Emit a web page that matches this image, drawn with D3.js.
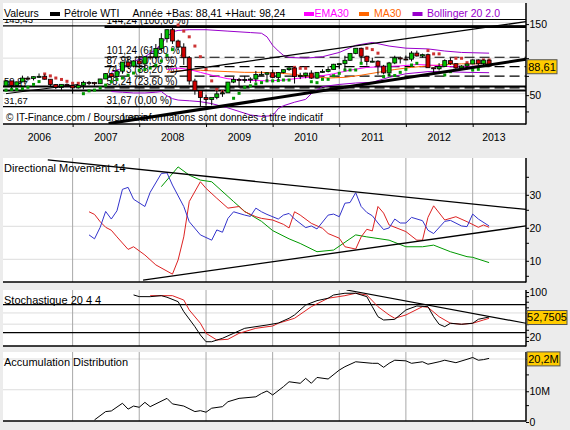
<!DOCTYPE html>
<html>
<head>
<meta charset="utf-8">
<script src="https://cdn.jsdelivr.net/npm/d3@7"></script>
<style>
  body { margin: 0; background: #ececec; }
  text { font-family: "Liberation Sans", Arial, sans-serif; }
</style>
</head>
<body>
<script>
// monthly candles, Jan 2006 .. Apr 2013 : [open, high, low, close]
const ohlc = [
  [61.0, 69.2, 60.8, 67.9], [67.9, 68.0, 57.6, 61.4], [61.4, 67.0, 59.6, 66.6], [66.6, 75.4, 66.3, 71.9],
  [71.9, 74.6, 68.2, 71.3], [71.3, 74.3, 68.7, 73.9], [73.9, 78.4, 72.2, 74.4], [74.4, 77.0, 69.8, 70.3],
  [70.3, 70.4, 59.5, 62.9], [62.9, 63.6, 56.6, 58.7], [58.7, 63.1, 55.4, 63.1], [63.1, 64.3, 60.3, 61.1],
  [61.1, 62.0, 49.9, 58.1], [58.1, 62.3, 57.2, 61.8], [61.8, 68.1, 56.3, 65.9], [65.9, 67.9, 61.9, 65.7],
  [65.7, 66.6, 61.3, 64.0], [64.0, 70.7, 64.0, 70.7], [70.7, 78.8, 70.5, 78.2], [78.2, 78.8, 69.0, 74.0],
  [74.0, 83.9, 72.0, 81.7], [81.7, 94.5, 78.0, 94.5], [94.5, 99.3, 86.0, 88.7], [88.7, 97.0, 87.0, 96.0],
  [96.0, 100.1, 86.1, 91.8], [91.8, 103.0, 86.1, 101.8], [101.8, 111.8, 97.8, 101.6], [101.6, 119.9, 98.7, 113.5],
  [113.5, 135.1, 110.0, 127.4], [127.4, 140.4, 122.0, 140.0], [140.0, 144.24, 120.0, 124.1], [124.1, 126.0, 111.3, 115.5],
  [115.5, 120.9, 90.5, 100.6], [100.6, 103.0, 62.7, 67.8], [67.8, 71.0, 48.5, 54.4], [54.4, 54.5, 31.67, 44.6],
  [44.6, 48.6, 33.2, 41.7], [41.7, 43.4, 33.6, 44.8], [44.8, 54.7, 42.1, 49.7], [49.7, 54.4, 45.5, 51.1],
  [51.1, 66.6, 50.9, 66.3], [66.3, 73.4, 64.8, 69.9], [69.9, 72.2, 58.3, 69.5], [69.5, 75.0, 65.3, 70.0],
  [70.0, 73.0, 65.0, 70.6], [70.6, 82.0, 65.9, 77.0], [77.0, 81.5, 75.5, 77.3], [77.3, 80.0, 68.6, 79.4],
  [79.4, 83.9, 72.4, 72.9], [72.9, 80.5, 69.5, 79.7], [79.7, 83.8, 78.6, 83.8], [83.8, 87.2, 82.1, 86.2],
  [86.2, 87.2, 64.2, 74.0], [74.0, 79.4, 70.5, 75.6], [75.6, 79.5, 71.6, 79.0], [79.0, 82.9, 70.7, 71.9],
  [71.9, 80.0, 70.8, 80.0], [80.0, 84.4, 79.2, 81.4], [81.4, 88.6, 80.0, 84.1], [84.1, 92.0, 84.0, 91.4],
  [91.4, 92.6, 84.9, 92.2], [92.2, 103.4, 84.1, 97.0], [97.0, 106.9, 96.1, 106.7], [106.7, 113.9, 105.5, 113.9],
  [113.9, 114.8, 94.6, 102.7], [102.7, 103.4, 89.6, 95.4], [95.4, 100.6, 94.0, 95.7], [95.7, 97.0, 76.6, 88.8],
  [88.8, 90.5, 77.1, 79.2], [79.2, 94.7, 74.9, 93.2], [93.2, 103.4, 91.5, 100.4], [100.4, 102.4, 92.5, 98.8],
  [98.8, 103.7, 97.0, 98.5], [98.5, 109.8, 95.4, 107.1], [107.1, 110.6, 102.2, 103.0], [103.0, 106.3, 100.7, 104.9],
  [104.9, 106.3, 86.3, 86.5], [86.5, 86.6, 77.3, 85.0], [85.0, 92.9, 82.6, 88.1], [88.1, 98.3, 87.5, 96.5],
  [96.5, 100.4, 90.6, 92.2], [92.2, 93.0, 84.8, 86.2], [86.2, 90.0, 84.1, 88.9], [88.9, 91.8, 84.1, 91.8],
  [91.8, 98.2, 91.6, 97.5], [97.5, 98.2, 90.1, 92.1], [92.1, 97.9, 89.5, 97.2], [97.2, 97.9, 88.41, 88.61]
];

// parabolic SAR [month index, value]
const sarUp = [[0,55],[1,56],[2,56],[3,57],[4,59],[5,63],[6,67],
  [14,50],[15,54],[16,55],[17,58],[18,62],[19,67],[20,70],[21,72],[22,76],[23,79],[24,83],[25,84],[26,86],[27,90],[28,96],[29,104],[30,112],
  [40,33],[41,43.5],[42,50.5],[43,59],[44,61],[45,63.6],[46,65.5],[47,68],[48,68],[49,68.4],[50,69.2],[51,69.2],
  [55,66.8],[56,65.5],[57,70.2],[58,70.2],[59,75.3],[60,78.6],[61,83.3],[62,83.3],[63,83.3],[64,92.7],
  [68,74],[69,76],[70,75.5],[71,80],[72,84.3],[73,90.3],[74,92.7],[79,76.3],[80,81],[84,83.3],[85,84.3]];
const sarDown = [[7,77.7],[8,75],[9,72],[10,70],[11,67.4],[12,64.6],[13,64.6],
  [31,146.6],[32,138],[33,130],[34,117],[35,102],[36,84],[37,68],[38,56],[39,52.7],
  [52,87],[53,85.7],[54,85.7],[65,114],[66,112],[67,107],[76,110.6],[77,106],[78,106],
  [81,99.8],[82,99.8],[83,93.6],[86,97.4],[87,97.4]];

const bollUpper = [[19,80],[21,86],[23,95],[25,102],[27,112],[28,120],[29,130],[30,137],[31,139],[33,140],[36,140],
  [40,138],[44,136],[46,135],[47,130],[48,118],[49,110],[50,104],[51,101],[54,100],[57,102],[60,108],[63,118],
  [66,122],[69,117],[72,114],[76,113],[79,110],[82,108],[87,107]];
const bollLower = [[19,53],[21,52],[23,51],[25,51],[27,52],[28,53],[29,47],[30,43],[31,41],[33,40],[35,38.7],[37,36],
  [40,30],[42,25],[44,20],[46,18],[48,19],[49,29],[50,33],[52,38],[54,42],[55,50],[57,60],[60,63],[63,65],[66,66],
  [69,73],[72,78],[76,81],[79,81],[83,80],[87,79.5]];
const ma30 = [[29,80],[31,82],[33,83],[35,83],[37,82],[40,81],[43,80],[46,80],[49,79],[52,77],[55,74],[58,72],[61,73],
  [64,76],[67,80],[70,84],[73,87],[76,89],[79,91],[82,92],[85,92],[87,93]];
const ema30 = [[29,84],[31,86],[33,84],[35,80],[37,76],[40,71],[43,69],[47,68],[50,69],[53,72],[56,74],[59,78],[62,83],
  [65,87],[68,88],[71,89],[74,91],[77,90],[80,88],[83,88],[87,90]];

// horizontal levels and fibonacci retracement
const levels = [145.43, 59.97, 54.47, 31.67];
const fibValues = [144.24, 101.24, 87.98, 74.73, 58.24, 31.67];
const fibPct = ['100,00', '61,80', '50,00', '38,20', '23,60', '0,00'];
const fibStart = '2007-06-25';

// trend lines [date, value]
const supportLine = [['2007-07-17', 7.9], ['2013-10-20', 98.4]];
const channelTop = [['2008-06-20', 80.1], ['2013-10-20', 151.3]];
const earlyLine = [['2006-01-01', 50], ['2007-02-01', 63]];
const dmTop = [['2006-08-18', 40.1], ['2013-10-20', 25.1]];
const dmBottom = [['2008-01-22', 3.7], ['2013-10-20', 20.1]];
const stochLine = [['2011-02-10', 100.9], ['2013-10-20', 41.6]];

// directional movement 14
const diPlus = [[15,17.4],[16,16.2],[17,19.7],[18,24.5],[19,22.2],[20,24.7],[21,31.2],[22,31.8],[23,28.2],[25,26],[26,30.3],
  [28,36],[29,36.2],[30,32.5],[32,26],[33,21.4],[35,17.4],[37,15.8],[38,18.9],[39,18.2],[40,22.4],[41,24.4],[43,23.4],
  [44,23],[45,25.5],[46,24.4],[47,23.6],[49,22.2],[50,23.4],[51,23.9],[52,22.2],[54,19.6],[55,20.1],[56,19.2],[58,23.4],
  [59,23.7],[60,22.9],[61,27],[62,27.2],[63,30.2],[64,26],[65,24.2],[66,23.2],[67,21],[68,19],[69,19.5],[70,22.2],
  [71,21],[72,21],[73,22.7],[75,21.7],[76,18.8],[77,17.8],[79,21.5],[80,21.8],[82,20.1],[83,19.9],[84,23.7],[85,22.2],[87,20.1]];
const diMinus = [[15,24.4],[16,23.6],[17,21.4],[18,19.7],[19,18.8],[20,16.8],[22,13],[23,13.8],[25,11.3],[27,8.3],[30,5.5],
  [31,9.8],[32,16.8],[33,27.5],[35,33.5],[36,31.5],[38,28.5],[40,25.5],[42,26],[43,24.4],[45,22.9],[46,22.4],[48,21.9],
  [50,20.6],[51,19.5],[52,24.4],[53,23.4],[55,20.9],[57,19.4],[58,17.8],[60,16.4],[61,13.8],[63,13.1],[64,16.8],[65,19.1],
  [66,18.6],[67,26],[68,24],[69,20.4],[72,18.4],[74,15.8],[75,15.8],[76,22.7],[77,26.2],[79,21.9],[81,22.9],[83,21.4],
  [85,19.7],[86,20.4],[87,19.7]];
const adx = [[28,32],[31,38],[33,35.5],[35,34],[37,33.5],[41,27.5],[43,24.5],[46,21.5],[48,18.7],[51,16.2],[53,14.8],
  [56,12.3],[59,12.8],[63,17.4],[65,16.8],[69,15.8],[72,13.8],[75,13.8],[77,14.3],[80,12.3],[83,10.8],[84,10.6],[87,9.0]];

// stochastique 20 4 4
const stochK = [[23,92.1],[24,89.1],[26,89],[28,90.8],[29,88],[31,80.1],[32,62.3],[34,35.5],[35,20.7],[36,8.7],[37,8.7],
  [39,14.8],[41,23.7],[43,32.6],[47,38.5],[49,42],[51,50.5],[52,56.4],[54,74.2],[56,81.9],[58,86.2],[59,92],[61,95.1],
  [63,95.1],[65,89],[66,71.2],[67,53.3],[68,47.4],[70,48.6],[72,65.3],[74,72.4],[76,71.2],[77,53.3],[78,39.8],[79,35.5],
  [80,41.6],[82,39.8],[84,41.6],[85,48.7],[87,52.75]];
const stochD = [[26,90.8],[30,90.8],[32,83],[33,65.3],[35,41.6],[36,23.7],[38,11.8],[40,13],[42,23.7],[45,32.6],[48,36.7],
  [49,41.6],[52,50.5],[55,71.2],[58,86.2],[61,90.8],[63,95.1],[65,92],[67,71.2],[69,56.4],[70,50.5],[72,56.4],[75,71.2],
  [76,70.1],[78,53.3],[80,41.6],[82,39.8],[84,41.6],[86,47.4],[87,50.5]];

// accumulation distribution, millions
const accDist = [[16,0.2],[18,2.9],[19,3.1],[21,5.6],[22,3.7],[23,4.7],[24,4.3],[25,5.9],[26,4.5],[29,7.2],[30,5.4],[32,4.7],
  [34,2.9],[35,3.2],[36,2.7],[37,4],[39,4.5],[40,6.1],[42,7.2],[45,7.7],[46,8.8],[47,9.6],[48,8.3],[50,11],[51,12.6],
  [53,12.1],[54,13.7],[55,12.1],[56,14],[58,13.5],[60,16.4],[61,17.5],[63,19.1],[66,18.6],[67,18.6],[68,17.3],[69,18.6],
  [70,19.6],[72,19.4],[73,18.6],[75,19.1],[76,18.3],[78,19.1],[79,19.6],[81,18.8],[83,19.9],[84,20.5],[85,19.6],[86,19.8],[87,20.2]];

const yearLabels = [2006, 2007, 2008, 2009, 2010, 2011, 2012, 2013];

// ---- layout
const L = 3, R = 526;
const panels = {
  main: { top: 3, bottom: 124 },
  dm: { top: 158, bottom: 282 },
  sto: { top: 290, bottom: 346 },
  ad: { top: 352, bottom: 421 }
};

const start = new Date(2006, 0, 1);
const mDate = i => d3.timeMonth.offset(start, i);
const parseDay = d3.timeParse('%Y-%m-%d');
const fr = v => d3.format('.2f')(v).replace('.', ',');

const x = d3.scaleTime()
  .domain([new Date(2006, 0, 1), new Date(2014, 0, 1)])
  .range([6, 539.3]);
const yPrice = d3.scaleLinear().domain([0, 150]).range([129.2, 22.6]);
const yDM = d3.scaleLinear().domain([0, 40]).range([292.3, 160.3]);
const ySto = d3.scaleLinear().domain([0, 100]).range([346.6, 290.5]);
const yAD = d3.scaleLinear().domain([0, 20]).range([420.5, 359]);

const svg = d3.select('body').append('svg')
  .attr('width', 570)
  .attr('height', 430);

svg.append('rect').attr('width', 570).attr('height', 430).attr('fill', '#ececec');

const defs = svg.append('defs');
const layers = {};
Object.entries(panels).forEach(([k, p]) => {
  defs.append('clipPath').attr('id', 'clip-' + k)
    .append('rect').attr('x', L).attr('y', p.top).attr('width', R - L).attr('height', p.bottom - p.top);
  svg.append('rect')
    .attr('x', L).attr('y', p.top).attr('width', R - L).attr('height', p.bottom - p.top)
    .attr('fill', '#fff');
  layers[k] = svg.append('g').attr('clip-path', 'url(#clip-' + k + ')');
});

function hGrid(k, y, vals) {
  layers[k].selectAll(null).data(vals).enter().append('line')
    .attr('x1', L).attr('x2', R)
    .attr('y1', d => y(d)).attr('y2', d => y(d))
    .attr('stroke', '#dddddd');
}
function vGrid(k) {
  const p = panels[k];
  layers[k].selectAll(null).data(yearLabels.slice(1)).enter().append('line')
    .attr('x1', d => x(new Date(d, 0, 1))).attr('x2', d => x(new Date(d, 0, 1)))
    .attr('y1', p.top).attr('y2', p.bottom)
    .attr('stroke', '#a8a8a8');
}
function seriesLine(k, y, data, color, width) {
  layers[k].append('path')
    .datum(data)
    .attr('d', d3.line().x(d => x(mDate(d[0]))).y(d => y(d[1])))
    .attr('fill', 'none')
    .attr('stroke', color)
    .attr('stroke-width', width || 1);
}
function trend(k, y, data, width) {
  layers[k].append('path')
    .datum(data)
    .attr('d', d3.line().x(d => x(parseDay(d[0]))).y(d => y(d[1])))
    .attr('fill', 'none')
    .attr('stroke', '#000')
    .attr('stroke-width', width);
}
function rightAxis(k, y, major, minor, fmt) {
  const p = panels[k];
  svg.append('g').attr('transform', 'translate(' + R + ',0)')
    .call(d3.axisRight(y).tickValues(minor).tickSize(3).tickFormat(''))
    .call(g => g.select('.domain').remove());
  svg.append('g').attr('transform', 'translate(' + R + ',1.5)')
    .call(d3.axisRight(y).tickValues(major).tickSize(3).tickPadding(0.5).tickFormat(fmt))
    .call(g => g.select('.domain').remove())
    .call(g => g.selectAll('text').attr('font-size', 10.5).attr('fill', '#000')
      .attr('font-family', '"Liberation Sans", Arial, sans-serif'));
  svg.append('line').attr('x1', R).attr('x2', R).attr('y1', p.top).attr('y2', p.bottom + 0.5)
    .attr('stroke', '#000').attr('stroke-width', 1.5);
  svg.append('line').attr('x1', L).attr('x2', R).attr('y1', p.bottom).attr('y2', p.bottom)
    .attr('stroke', '#000').attr('stroke-width', 1.5);
}
function valueBox(y, text, w) {
  const g = svg.append('g').attr('transform', 'translate(' + (R + 1) + ',' + y + ')');
  g.append('rect').attr('x', 0).attr('y', -6.5).attr('width', w).attr('height', 14)
    .attr('fill', '#ffcc00').attr('stroke', '#555');
  g.append('text').attr('x', w / 2).attr('y', 0.5).attr('dy', '0.35em')
    .attr('text-anchor', 'middle').attr('font-size', 11).text(text);
}
function title(k, txt) {
  layers[k].append('text').attr('x', 4).attr('y', panels[k].top + 14)
    .attr('font-size', 11).text(txt);
}

// ---- main price panel
hGrid('main', yPrice, [50, 100, 150]);
vGrid('main');
const M = layers.main;

levels.forEach(v => {
  M.append('line').attr('x1', L).attr('x2', R).attr('y1', yPrice(v)).attr('y2', yPrice(v))
    .attr('stroke', '#000').attr('stroke-width', v > 50 && v < 100 ? 2 : 1.2);
  M.append('text').attr('x', 4).attr('y', yPrice(v) - 3).attr('font-size', 9.5).text(fr(v));
});

const fx = x(parseDay(fibStart));
fibValues.forEach((v, i) => {
  const solid = i === 0 || i === fibValues.length - 1;
  M.append('line').attr('x1', fx).attr('x2', R).attr('y1', yPrice(v)).attr('y2', yPrice(v))
    .attr('stroke', '#000')
    .attr('stroke-width', i === 0 ? 2.5 : 1.2)
    .attr('stroke-dasharray', solid ? null : '10,5');
  M.append('text').attr('x', fx + 2).attr('y', yPrice(v) - 3).attr('font-size', 10)
    .text(fr(v) + ' (' + fibPct[i] + ' %)');
});

seriesLine('main', yPrice, bollUpper, '#9900cc');
seriesLine('main', yPrice, bollLower, '#9900cc');
seriesLine('main', yPrice, ma30, '#ff6600');
seriesLine('main', yPrice, ema30, '#ff00ff');

M.selectAll(null).data(sarUp).enter().append('rect')
  .attr('x', d => x(mDate(d[0])) - 1.5).attr('y', d => yPrice(d[1]) - 1.5)
  .attr('width', 3).attr('height', 3).attr('fill', '#009900');
M.selectAll(null).data(sarDown).enter().append('rect')
  .attr('x', d => x(mDate(d[0])) - 1.5).attr('y', d => yPrice(d[1]) - 1.5)
  .attr('width', 3).attr('height', 3).attr('fill', '#cc3333');

const candles = M.selectAll('g.candle').data(ohlc).enter().append('g').attr('class', 'candle');
candles.append('line')
  .attr('x1', (d, i) => x(mDate(i))).attr('x2', (d, i) => x(mDate(i)))
  .attr('y1', d => yPrice(d[1])).attr('y2', d => yPrice(d[2]))
  .attr('stroke', '#000');
candles.append('rect')
  .attr('x', (d, i) => x(mDate(i)) - 2)
  .attr('y', d => yPrice(Math.max(d[0], d[3])))
  .attr('width', 4)
  .attr('height', d => Math.max(1, Math.abs(yPrice(d[0]) - yPrice(d[3]))))
  .attr('fill', d => d[3] >= d[0] ? '#00c000' : '#d00000')
  .attr('stroke', '#000').attr('stroke-width', 0.8);

trend('main', yPrice, supportLine, 3);
trend('main', yPrice, channelTop, 1.3);
trend('main', yPrice, earlyLine, 1);

M.append('text').attr('x', 6).attr('y', 121).attr('font-size', 10)
  .text('\u00a9 IT-Finance.com / Boursorama');
M.append('text').attr('x', 122).attr('y', 121).attr('font-size', 10)
  .text('Les informations sont données à titre indicatif');

// legend strip
const leg = svg.append('g');
leg.append('rect').attr('x', L).attr('y', panels.main.top).attr('width', R - L).attr('height', 16.5).attr('fill', '#fff');
leg.append('line').attr('x1', L).attr('x2', R).attr('y1', 19.5).attr('y2', 19.5).attr('stroke', '#000');
const legItems = [
  { x: 4, text: 'Valeurs', color: '#000' },
  { x: 64, text: 'Pétrole WTI', color: '#000', swatch: '#000', sx: 50 },
  { x: 132.5, text: 'Année +Bas: 88,41 +Haut: 98,24', color: '#000' },
  { x: 314.5, text: 'EMA30', color: '#ff00ff', swatch: '#ff00ff', sx: 304 },
  { x: 374, text: 'MA30', color: '#ff6600', swatch: '#ff6600', sx: 359 },
  { x: 427, text: 'Bollinger 20 2.0', color: '#9900cc', swatch: '#9900cc', sx: 412.5 }
];
legItems.forEach(d => {
  if (d.swatch) leg.append('rect').attr('x', d.sx).attr('y', 12).attr('width', 10).attr('height', 4).attr('fill', d.swatch);
  leg.append('text').attr('x', d.x).attr('y', 17).attr('font-size', 10.5).attr('fill', d.color).text(d.text);
});

// labels hidden behind the value boxes are left out
rightAxis('main', yPrice, [50, 150], [25, 75, 100, 125], d3.format('d'));
valueBox(yPrice(88.61), fr(88.61), 30);

// x axis
const years = yearLabels.slice(1).map(d => new Date(d, 0, 1));
svg.append('g').attr('transform', 'translate(0,' + panels.main.bottom + ')')
  .call(d3.axisBottom(x).tickValues(years).tickSize(3).tickFormat(''))
  .call(g => g.select('.domain').remove());
svg.selectAll('text.year').data(yearLabels).enter().append('text')
  .attr('class', 'year')
  .attr('x', d => (Math.max(6, x(new Date(d, 0, 1))) + Math.min(515, x(new Date(d + 1, 0, 1)))) / 2)
  .attr('y', 141).attr('text-anchor', 'middle').attr('font-size', 10.5)
  .text(d => d);

// ---- directional movement
hGrid('dm', yDM, [10, 20, 30]);
vGrid('dm');
title('dm', 'Directional Movement 14');
seriesLine('dm', yDM, adx, '#009900');
seriesLine('dm', yDM, diMinus, '#dd2222');
seriesLine('dm', yDM, diPlus, '#3333cc');
trend('dm', yDM, dmTop, 1.3);
trend('dm', yDM, dmBottom, 1.3);
rightAxis('dm', yDM, [10, 20, 30], [5, 15, 25, 35], d3.format('d'));

// ---- stochastic
hGrid('sto', ySto, [40, 60]);
vGrid('sto');
title('sto', 'Stochastique 20 4 4');
[75, 25].forEach(v => layers.sto.append('line').attr('x1', L).attr('x2', R)
  .attr('y1', ySto(v)).attr('y2', ySto(v)).attr('stroke', '#000').attr('stroke-width', 1.2));
seriesLine('sto', ySto, stochD, '#dd2222');
seriesLine('sto', ySto, stochK, '#000');
trend('sto', ySto, stochLine, 1.2);
rightAxis('sto', ySto, [20, 100], [10, 30, 40, 50, 60, 70, 80, 90], d3.format('d'));
valueBox(ySto(52.7505), '52,7505', 40);

// ---- accumulation distribution
hGrid('ad', yAD, [10, 20]);
vGrid('ad');
title('ad', 'Accumulation Distribution');
seriesLine('ad', yAD, accDist, '#000');
rightAxis('ad', yAD, [0, 10], [5, 15, 20], d => d === 0 ? '0' : d + 'M');
valueBox(yAD(20.2), '20,2M', 33);
</script>
</body>
</html>
